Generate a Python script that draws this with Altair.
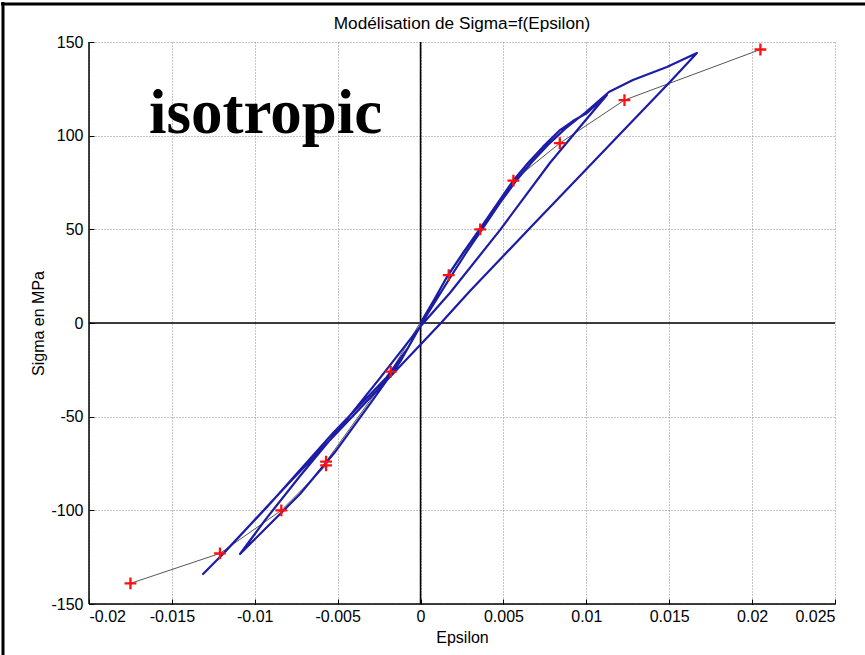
import altair as alt
import pandas as pd

# ---------------- data ----------------
title_text = "Modélisation de Sigma=f(Epsilon)"
x_title = "Epsilon"
y_title = "Sigma en MPa"
annotation = "isotropic"

x_ticks = [-0.02, -0.015, -0.01, -0.005, 0, 0.005, 0.01, 0.015, 0.02, 0.025]
y_ticks = [-150, -100, -50, 0, 50, 100, 150]

# model points (red +, joined by grey line)
marker_eps = [-0.0175, -0.0121, -0.0084, -0.0057, -0.0057, -0.0018,
              0.0017, 0.0036, 0.0056, 0.0084, 0.0123, 0.0205]
marker_sig = [-139, -123, -100, -76, -74, -26,
              25.6, 50, 76, 96, 119, 146]

# simulated hysteresis path (blue)
path_eps = [
    # first loading
    0.0, 0.00081, 0.00159, 0.00256, 0.00358, 0.00461, 0.00557, 0.00648,
    0.00738, 0.00841, 0.00919, 0.01004, 0.01124,
    # first unloading
    0.00961, 0.0078, 0.00479, 0.00177, -0.00004, -0.00245, -0.00486,
    -0.00727, -0.00938, -0.01089,
    # reloading to the big tip
    -0.00908, -0.00727, -0.00516, -0.00305, -0.00124, 0.00027, 0.00177,
    0.00274, 0.00376, 0.00479, 0.00575, 0.00672, 0.00768, 0.00871,
    0.00991, 0.01136, 0.01281, 0.01486, 0.01667,
    # second unloading
    0.01504, 0.01082, 0.0066, 0.00298, 0.00123, -0.00094, -0.00305,
    -0.00546, -0.00788, -0.01029, -0.0121, -0.01312,
    # final reloading
    -0.0118, -0.00926, -0.00727, -0.00528, -0.00365, -0.00203, -0.00076,
    0.00002, 0.0006,
]
path_sig = [
    0.0, 12.3, 24.6, 37.4, 50.2, 63.5, 75.8, 85.4,
    94.0, 103.0, 107.8, 112.1, 121.7,
    104.6, 85.4, 49.6, 16.0, -2.1, -29.4, -56.0,
    -81.7, -105.2, -123.3,
    -107.3, -91.3, -68.9, -43.2, -20.8, 2.7, 24.0,
    37.4, 50.7, 64.1, 75.8, 85.9, 95.0, 103.6,
    112.1, 123.3, 129.7, 136.7, 144.1,
    128.6, 89.7, 50.7, 17.1, 0.0, -20.3, -40.0,
    -62.5, -84.9, -107.8, -124.9, -134.0,
    -122.2, -98.2, -78.5, -58.7, -43.8, -28.8, -13.3,
    -1.1, 8.0,
]

annot_eps = [-0.00935]
annot_sig = [101.4]

# ---------------- tables ----------------
markers = pd.DataFrame({"eps": marker_eps, "sig": marker_sig,
                        "i": list(range(len(marker_eps)))})
path = pd.DataFrame({"eps": path_eps, "sig": path_sig,
                     "i": list(range(len(path_eps)))})
annot = pd.DataFrame({"eps": annot_eps, "sig": annot_sig, "t": [annotation]})
zero = pd.DataFrame({"v": [0]})
title_df = pd.DataFrame({"t": [title_text]})

FONT = "Liberation Sans"
W, H = 746, 562

xscale = alt.Scale(domain=[-0.02, 0.025], nice=False, zero=False)
yscale = alt.Scale(domain=[-150, 150], nice=False, zero=False)

xaxis = alt.Axis(values=x_ticks, labelExpr="'' + datum.value", title=x_title,
                 grid=True, gridDash=[1, 2], gridColor="#8c8c8c", gridWidth=1,
                 domain=False, offset=-5, tickSize=5, tickColor="#000000",
                 tickWidth=1, labelPadding=4, labelFont=FONT, labelFontSize=16,
                 labelColor="#000000", titleFont=FONT, titleFontSize=16,
                 titleFontWeight="normal", titleColor="#000000", titlePadding=5)
yaxis = alt.Axis(values=y_ticks, labelExpr="'' + datum.value", title=y_title,
                 grid=True, gridDash=[1, 2], gridColor="#8c8c8c", gridWidth=1,
                 domain=False, offset=-5, tickSize=5, tickColor="#000000",
                 tickWidth=1, labelPadding=6, labelFont=FONT, labelFontSize=16,
                 labelColor="#000000", titleFont=FONT, titleFontSize=16,
                 titleFontWeight="normal", titleColor="#000000", titlePadding=4)

base_x = alt.X("eps:Q", scale=xscale, axis=xaxis)
base_y = alt.Y("sig:Q", scale=yscale, axis=yaxis)

grid_layer = alt.Chart(markers).mark_point(opacity=0).encode(x=base_x, y=base_y)

frame_left = alt.Chart(zero).mark_rule(color="#000000", strokeWidth=1.5).encode(
    x=alt.datum(-0.02, scale=xscale))
frame_bottom = alt.Chart(zero).mark_rule(color="#000000", strokeWidth=1.5).encode(
    y=alt.datum(-150, scale=yscale))
zero_v = alt.Chart(zero).mark_rule(color="#000000", strokeWidth=1.6).encode(
    x=alt.datum(0, scale=xscale))
zero_h = alt.Chart(zero).mark_rule(color="#000000", strokeWidth=1.6).encode(
    y=alt.datum(0, scale=yscale))

model_line = alt.Chart(markers).mark_line(color="#555555", strokeWidth=1).encode(
    x=alt.X("eps:Q", scale=xscale), y=alt.Y("sig:Q", scale=yscale), order="i:Q")

blue = alt.Chart(path).mark_line(color="#1c1ca6", strokeWidth=2.2,
                                 strokeJoin="round").encode(
    x=alt.X("eps:Q", scale=xscale), y=alt.Y("sig:Q", scale=yscale), order="i:Q")

plus = alt.Chart(markers).mark_point(
    shape="M-1,0L1,0M0,-1L0,1", size=140, filled=False, color="#ff1010",
    strokeWidth=2.3, opacity=1).encode(
    x=alt.X("eps:Q", scale=xscale), y=alt.Y("sig:Q", scale=yscale))

text = alt.Chart(annot).mark_text(font="Liberation Serif", fontWeight="bold",
                                  fontSize=63, align="center",
                                  baseline="alphabetic", color="#000000").encode(
    x=alt.X("eps:Q", scale=xscale), y=alt.Y("sig:Q", scale=yscale), text="t:N")

title_mark = alt.Chart(title_df).mark_text(
    font=FONT, fontSize=17.2, align="center", baseline="alphabetic",
    color="#000000").encode(x=alt.value(W / 2), y=alt.value(-13), text="t:N")

# outer picture border (left and top)
border_left = alt.Chart(zero).mark_rule(color="#000000", strokeWidth=3).encode(
    x=alt.value(-86), y=alt.value(-40), y2=alt.value(613))
border_top = alt.Chart(zero).mark_rule(color="#000000", strokeWidth=3).encode(
    x=alt.value(-88), x2=alt.value(776), y=alt.value(-38))

chart = alt.layer(
    grid_layer, zero_v, zero_h, model_line, blue, plus, text, title_mark,
    frame_left, frame_bottom, border_left, border_top,
).properties(
    width=W, height=H,
    autosize=alt.AutoSizeParams(type="none"),
    padding={"left": 89, "top": 42, "right": 30, "bottom": 51},
    background="#ffffff",
).configure_view(stroke=None)

chart.save("out.html", embed_options={"renderer": "svg", "actions": False})
